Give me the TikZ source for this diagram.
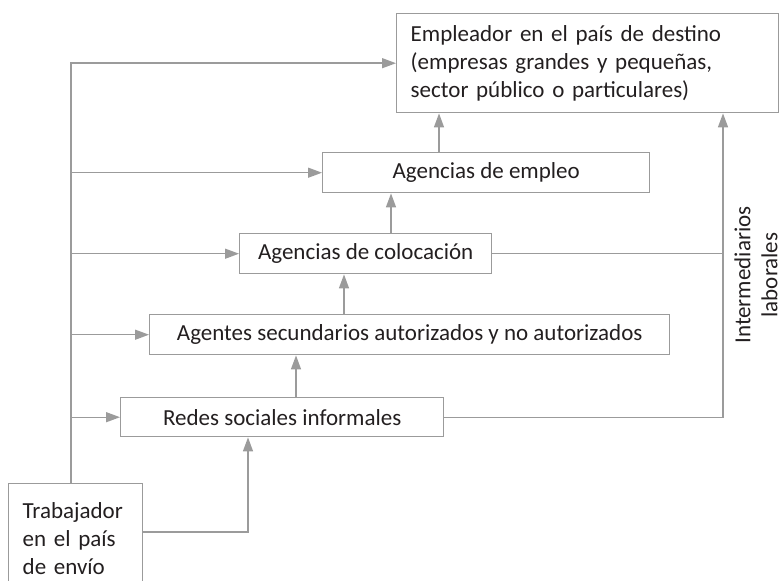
\documentclass[tikz,border=0pt]{standalone}
\usepackage{fontspec}
\setmainfont{Carlito}
\usetikzlibrary{arrows.meta}
\definecolor{lncol}{RGB}{155,155,155}
\definecolor{txcol}{RGB}{35,31,32}
\begin{document}
\begin{tikzpicture}[x=1pt,y=-1pt,
  font=\fontsize{23}{28}\selectfont, text=txcol,
  box/.style={draw=lncol, line width=1.4pt, rectangle, anchor=north west, inner sep=0pt, align=center},
  lbox/.style={draw=lncol, line width=1.4pt, rectangle, anchor=north west, inner xsep=14pt, inner ysep=0pt, align=left},
  conn/.style={draw=lncol, line width=1.4pt},
  arr/.style={conn, -{Triangle[length=14pt,width=10pt]}}]
\useasboundingbox (0,0) rectangle (783,580);
\clip (0,0) rectangle (783,580);
% boxes
\node[lbox, minimum width=382pt, minimum height=99pt, text width=354pt] (emp) at (396,13)
  {Empleador en el país de destino\\(empresas grandes y pequeñas,\\sector público o particulares)};
\node[box, minimum width=327pt, minimum height=40pt] (empleo) at (322,152) {Agencias de empleo};
\node[box, minimum width=252pt, minimum height=40pt] (coloc) at (239,233) {Agencias de colocación};
\node[box, minimum width=520pt, minimum height=40pt] (agentes) at (149,314) {Agentes secundarios autorizados y no autorizados};
\node[box, minimum width=323pt, minimum height=39pt] (redes) at (120,397) {Redes sociales informales};
\node[lbox, minimum width=134pt, minimum height=110pt, text width=106pt] (trab) at (8,483)
  {Trabajador\\en el país\\de envío};
\node[rotate=90, align=center, inner sep=0pt, font=\fontsize{23}{27}\selectfont] (inter) at (756,275) {Intermediarios\\laborales};
% helper coordinates
\coordinate (spine) at (71,0);
\coordinate (rx) at (723,0);
\coordinate (tb) at (0,532);
\coordinate (u0) at (248,0);
\coordinate (u1) at (296,0);
\coordinate (u2) at (344,0);
\coordinate (u3) at (391,0);
\coordinate (u4) at (439,0);
% left spine
\draw[arr] (spine |- trab.north) |- (emp.west);
\draw[arr] (spine |- empleo.west) -- (empleo.west);
\draw[arr] (spine |- coloc.west) -- (coloc.west);
\draw[arr] (spine |- agentes.west) -- (agentes.west);
\draw[arr] (spine |- redes.west) -- (redes.west);
% upward chain
\draw[arr] (trab.east |- tb) -| (u0 |- redes.south);
\draw[arr] (u1 |- redes.north) -- (u1 |- agentes.south);
\draw[arr] (u2 |- agentes.north) -- (u2 |- coloc.south);
\draw[arr] (u3 |- coloc.north) -- (u3 |- empleo.south);
\draw[arr] (u4 |- empleo.north) -- (u4 |- emp.south);
% right side
\draw[arr] (redes.east) -| (rx |- emp.south);
\draw[conn] (coloc.east) -- (rx |- coloc.east);
\end{tikzpicture}
\end{document}
